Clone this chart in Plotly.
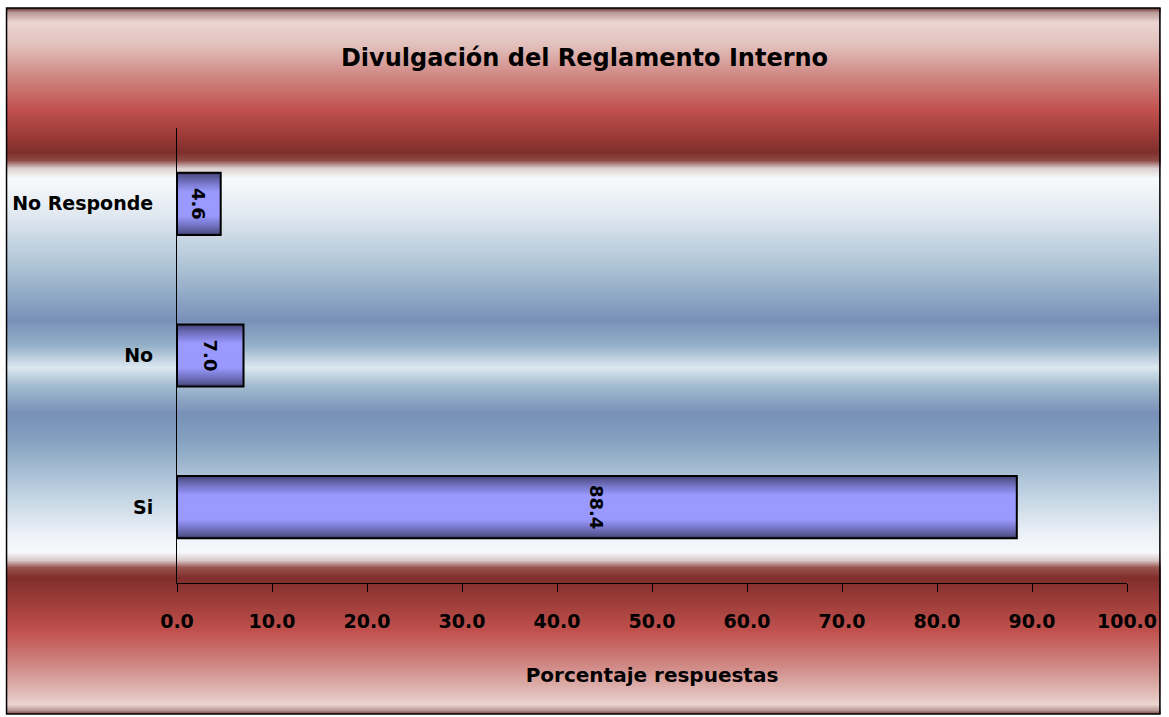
import base64
import struct
import zlib

import plotly.graph_objects as go

# Datos
categorias = ["Si", "No", "No Responde"]
porcentajes = [88.4, 7.0, 4.6]
ticks_x = [0, 10, 20, 30, 40, 50, 60, 70, 80, 90, 100]

W, H = 1169, 717
L, R, T, B = 176, 40, 128, 134
PW, PH = W - L - R, H - T - B
FUENTE = "Comic Sans MS, DejaVu Sans"


def px_x(x):
    return (x - L) / PW


def px_y(y):
    return (H - B - y) / PH


def hex_rgb(c):
    c = c.lstrip("#")
    return tuple(int(c[i:i + 2], 16) for i in (0, 2, 4))


def mezcla(c1, c2, t):
    a, b = hex_rgb(c1), hex_rgb(c2)
    return tuple(round(a[i] + (b[i] - a[i]) * t) for i in range(3))


# Fondo degradado (rojo - azul - rojo), tipo Excel
FONDO = [
    (8, "#6e3a36"), (12, "#b89894"), (22, "#ecd6d2"), (45, "#e2c0bc"),
    (75, "#d08884"), (110, "#c0504d"), (135, "#9c3c39"), (152, "#7f2e2b"),
    (160, "#8e4a47"), (168, "#dcd0d0"), (178, "#f8fafc"), (215, "#e0e8f0"),
    (270, "#aac0d4"), (320, "#7890b8"), (345, "#94b0c8"), (367, "#dce8f0"),
    (385, "#a4bcd0"), (413, "#7890b8"), (440, "#84a2c0"), (490, "#bccfe0"),
    (535, "#eef2f8"), (552, "#f6f8fa"), (560, "#d8c8c8"), (567, "#9a5450"),
    (577, "#7f2e2b"), (600, "#9c3c39"), (630, "#c0504d"), (665, "#d08884"),
    (695, "#e2c0bc"), (704, "#ecd6d2"), (710, "#b89894"), (714, "#6e3a36"),
]


def png_degradado(paradas, ancho=4):
    y0, y1 = paradas[0][0], paradas[-1][0]
    filas = b""
    for y in range(y0, y1):
        for (ya, ca), (yb, cb) in zip(paradas, paradas[1:]):
            if ya <= y < yb:
                rgb = mezcla(ca, cb, (y - ya) / (yb - ya))
                break
        filas += b"\x00" + bytes(rgb) * ancho

    def chunk(tipo, datos):
        return (struct.pack(">I", len(datos)) + tipo + datos
                + struct.pack(">I", zlib.crc32(tipo + datos) & 0xffffffff))

    ihdr = struct.pack(">IIBBBBB", ancho, y1 - y0, 8, 2, 0, 0, 0)
    png = (b"\x89PNG\r\n\x1a\n" + chunk(b"IHDR", ihdr)
           + chunk(b"IDAT", zlib.compress(filas)) + chunk(b"IEND", b""))
    return "data:image/png;base64," + base64.b64encode(png).decode()


fig = go.Figure()

# Barras con degradado: capas superpuestas cada vez mas estrechas
ANCHO = 0.41
CAPAS = 14
for i in range(CAPAS):
    t = i / (CAPAS - 1)
    rgb = mezcla("#46467a", "#9999ff", min(1.0, (t * 1.6) ** 0.8))
    fig.add_trace(go.Bar(
        y=categorias, x=porcentajes, orientation="h",
        width=ANCHO * (1 - 0.93 * t),
        marker=dict(color="rgb(%d,%d,%d)" % rgb, line=dict(width=0)),
        hoverinfo="skip", showlegend=False,
    ))

# Contorno y etiquetas
fig.add_trace(go.Bar(
    y=categorias, x=porcentajes, orientation="h", width=ANCHO,
    marker=dict(color="rgba(0,0,0,0)", line=dict(color="black", width=2)),
    text=["%.1f" % v for v in porcentajes],
    textposition="inside", insidetextanchor="middle", textangle=90,
    textfont=dict(family=FUENTE, size=18, color="black", weight="bold"),
    showlegend=False,
))

fig.add_layout_image(
    source=png_degradado(FONDO), xref="paper", yref="paper",
    x=px_x(5), y=px_y(FONDO[0][0]),
    sizex=px_x(1163) - px_x(5), sizey=px_y(FONDO[0][0]) - px_y(FONDO[-1][0]),
    xanchor="left", yanchor="top", sizing="stretch", layer="below",
)
fig.add_shape(
    type="rect", xref="paper", yref="paper",
    x0=px_x(5), x1=px_x(1162), y0=px_y(714), y1=px_y(8),
    line=dict(color="black", width=1.5), fillcolor="rgba(0,0,0,0)",
)

fig.update_layout(
    width=W, height=H,
    margin=dict(l=L, r=R, t=T, b=B, pad=0),
    barmode="overlay",
    paper_bgcolor="white",
    plot_bgcolor="rgba(0,0,0,0)",
    font=dict(family=FUENTE, color="black", size=19, weight="bold"),
    title=dict(
        text="Divulgación del Reglamento Interno",
        x=0.5, xref="container", xanchor="center",
        y=1 - 58 / H, yref="container", yanchor="middle",
        font=dict(family=FUENTE, size=24, color="black", weight="bold"),
    ),
    xaxis=dict(
        range=[0, 100], tickvals=ticks_x, tickformat=".1f",
        showgrid=False, zeroline=False,
        showline=True, linecolor="black", linewidth=1,
        ticks="outside", ticklen=8, tickcolor="black", tickwidth=1,
        ticklabelstandoff=13,
        tickfont=dict(family=FUENTE, size=19, weight="bold"),
        title=dict(text="Porcentaje respuestas", standoff=37,
                   font=dict(family=FUENTE, size=20, weight="bold")),
    ),
    yaxis=dict(
        categoryorder="array", categoryarray=categorias,
        showgrid=False, zeroline=False,
        showline=True, linecolor="black", linewidth=1,
        ticks="", ticklabelstandoff=19,
        tickfont=dict(family=FUENTE, size=19, weight="bold"),
    ),
)

fig.write_html("out.html", config={"displayModeBar": False},
               post_script="document.body.style.margin='0';")
